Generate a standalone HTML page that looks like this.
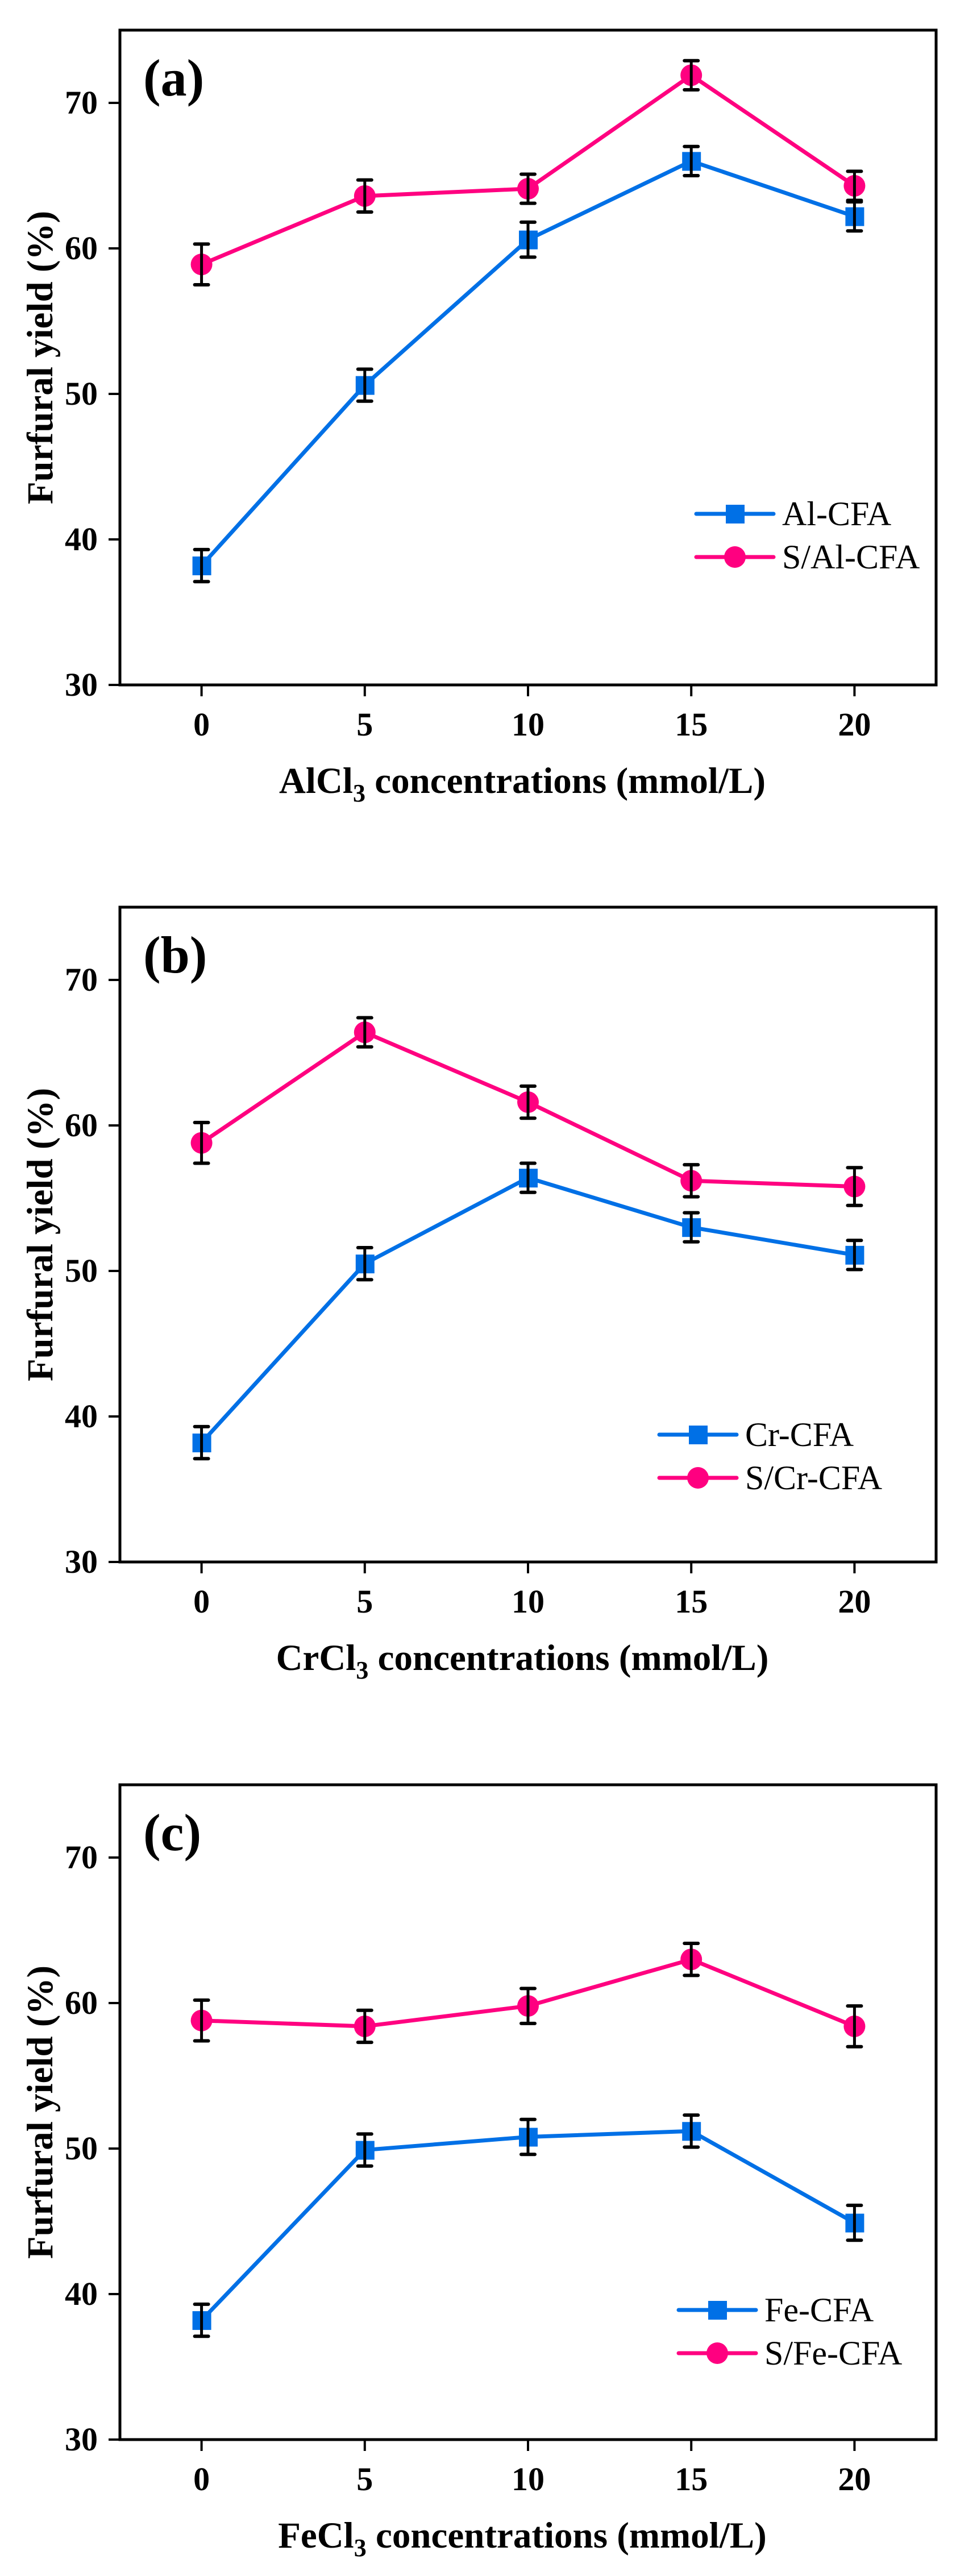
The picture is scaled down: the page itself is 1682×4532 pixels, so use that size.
<!DOCTYPE html>
<html><head><meta charset="utf-8"><style>
html,body{margin:0;padding:0;background:#fff;}
svg{display:block;font-family:"Liberation Serif",serif;}
</style></head><body>
<svg id="fig" width="1682" height="4532" viewBox="0 0 1682 4532" xmlns="http://www.w3.org/2000/svg"></svg>
<script>
const xCats = [0, 5, 10, 15, 20];
const yTicks = [30, 40, 50, 60, 70];
const alVals = [38.2, 50.6, 60.6, 66.0, 62.2];
const alErr = [1.1, 1.1, 1.2, 1.0, 1.0];
const sAlVals = [58.9, 63.6, 64.1, 71.9, 64.3];
const sAlErr = [1.4, 1.1, 1.0, 1.0, 1.0];
const crVals = [38.2, 50.5, 56.4, 53.0, 51.1];
const crErr = [1.1, 1.1, 1.0, 1.0, 1.0];
const sCrVals = [58.8, 66.4, 61.6, 56.2, 55.8];
const sCrErr = [1.4, 1.0, 1.1, 1.1, 1.3];
const feVals = [38.2, 49.9, 50.8, 51.2, 44.9];
const feErr = [1.1, 1.1, 1.2, 1.1, 1.2];
const sFeVals = [58.8, 58.4, 59.8, 63.0, 58.4];
const sFeErr = [1.4, 1.1, 1.2, 1.1, 1.4];

const NS = "http://www.w3.org/2000/svg";
const svg = document.getElementById('fig');
function mk(tag, attrs, parent){
  const e = document.createElementNS(NS, tag);
  for (const k in attrs) e.setAttribute(k, attrs[k]);
  (parent || svg).appendChild(e);
  return e;
}
const BLUE = "#0070E6", PINK = "#FF0080";
const L = 211, R = 1647, H = 1152;

const panels = [
  {top:53, tag:"a", metal:"Al", a:alVals, ae:alErr, b:sAlVals, be:sAlErr, lx:1225, ly:851},
  {top:1596, tag:"b", metal:"Cr", a:crVals, ae:crErr, b:sCrVals, be:sCrErr, lx:1160, ly:928},
  {top:3140, tag:"c", metal:"Fe", a:feVals, ae:feErr, b:sFeVals, be:sFeErr, lx:1194, ly:924}
];

panels.forEach(p => {
  const T = p.top, B = T + H;
  const g = mk('g', {});
  
  
  const xs = v => L + (v + 2.5) / 25 * (R - L);
  const ys = v => B - (v - 30) / 45 * H;

  const frame = mk('rect', {x:L, y:T, width:R-L, height:H, fill:'none', stroke:'#000', 'stroke-width':5}, g);
  
  

  yTicks.forEach(t => {
    const y = ys(t);
    mk('line', {x1:L-20, x2:L, y1:y, y2:y, stroke:'#000', 'stroke-width':4}, g);
    const tx = mk('text', {x:172, y:y+19, 'text-anchor':'end', 'font-size':58, 'font-weight':'bold'}, g);
    tx.textContent = t;
    
    
  });
  xCats.forEach(c => {
    const x = xs(c);
    mk('line', {x1:x, x2:x, y1:B, y2:B+20, stroke:'#000', 'stroke-width':4}, g);
    const tx = mk('text', {x:x, y:B+89, 'text-anchor':'middle', 'font-size':58, 'font-weight':'bold'}, g);
    tx.textContent = c;
    
    
  });

  const yt = mk('text', {x:0, y:0, 'text-anchor':'middle', 'font-size':65, 'font-weight':'bold', transform:`translate(92,${(T+B)/2}) rotate(-90)`}, g);
  yt.textContent = 'Furfural yield (%)';
  
  

  const xt = mk('text', {x:(L+R)/2 - 10, y:B+190, 'text-anchor':'middle', 'font-size':65, 'font-weight':'bold'}, g);
  xt.innerHTML = p.metal + 'Cl<tspan font-size="44" dy="15">3</tspan><tspan dy="-15"> concentrations (mmol/L)</tspan>';
  
  

  const pl = mk('text', {x:252, y:T+115, 'font-size':92, 'font-weight':'bold'}, g);
  pl.textContent = '(' + p.tag + ')';
  
  

  function series(vals, errs, color, shape, name){
    const sg = mk('g', {}, g);
    
    
    const pts = vals.map((v,i)=>xs(xCats[i])+','+ys(v)).join(' ');
    const line = mk('polyline', {points:pts, fill:'none', stroke:color, 'stroke-width':7, 'stroke-linejoin':'round'}, sg);
    
    
    vals.forEach((v,i)=>{
      const x = xs(xCats[i]), y = ys(v);
      let m;
      if (shape === 'sq') m = mk('rect', {x:x-16, y:y-16, width:33, height:33, fill:color}, sg);
      else m = mk('circle', {cx:x, cy:y, r:19, fill:color}, sg);
      
      
    });
    vals.forEach((v,i)=>{
      const x = xs(xCats[i]), y1 = ys(v+errs[i]), y2 = ys(v-errs[i]);
      const eg = mk('g', {stroke:'#000', 'stroke-width':6, 'stroke-linecap':'round'}, sg);
      
      
      mk('line', {x1:x, x2:x, y1:y1, y2:y2, 'stroke-width':5}, eg);
      mk('line', {x1:x-12, x2:x+12, y1:y1, y2:y1}, eg);
      mk('line', {x1:x-12, x2:x+12, y1:y2, y2:y2}, eg);
    });
  }
  series(p.a, p.ae, BLUE, 'sq', p.metal.toLowerCase() + '-cfa');
  series(p.b, p.be, PINK, 'ci', 's-' + p.metal.toLowerCase() + '-cfa');

  const lg = mk('g', {}, g);
  
  
  [[BLUE,'sq',p.metal+'-CFA',0],[PINK,'ci','S/'+p.metal+'-CFA',76]].forEach(e=>{
    const y = T + p.ly + e[3];
    const eg = mk('g', {}, lg);
    
    
    mk('line', {x1:p.lx, x2:p.lx+136, y1:y, y2:y, stroke:e[0], 'stroke-width':7, 'stroke-linecap':'round'}, eg);
    if (e[1]==='sq') mk('rect', {x:p.lx+52, y:y-16, width:33, height:33, fill:e[0]}, eg);
    else mk('circle', {cx:p.lx+68, cy:y, r:19, fill:e[0]}, eg);
    const t = mk('text', {x:p.lx+151, y:y+20, 'font-size':60}, eg);
    t.textContent = e[2];
  });
});
</script>
</body></html>
